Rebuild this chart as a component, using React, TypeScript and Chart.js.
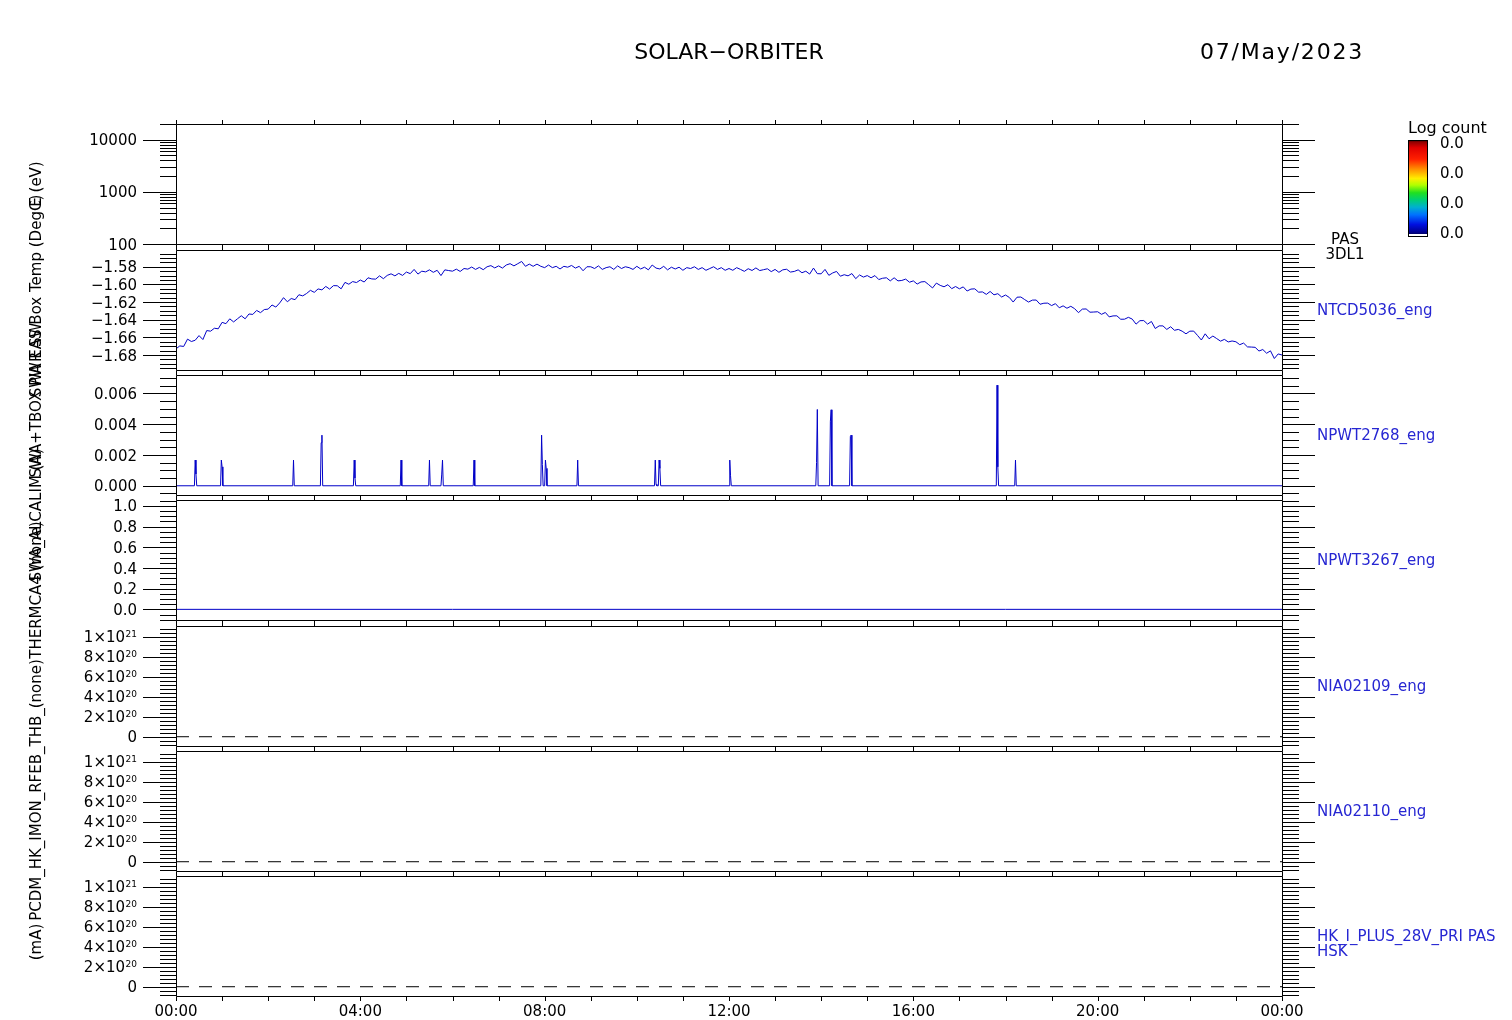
import React, { useEffect, useRef } from "react";
import { Chart, registerables } from "chart.js";

Chart.register(...registerables);

// ---------------- layout constants ----------------
const CANVAS_W = 1512;
const CANVAS_H = 1020;
const PLOT_LEFT = 176;
const PLOT_RIGHT = 1282;
const PANEL_TOPS = [124, 250, 375, 500, 626, 751, 876];
const PANEL_H = 120;
const FONT = '"DejaVu Sans", "Liberation Sans", sans-serif';
const LINE_BLUE = "#0000c8";
const LABEL_BLUE = "#2626d2";

// ---------------- titles ----------------
const MAIN_TITLE = "SOLAR\u2212ORBITER";
const DATE_TEXT = "07/May/2023";

// ---------------- time axis ----------------
const TIME_MIN_H = 0;
const TIME_MAX_H = 24;
const TIME_MAJOR_HOURS = [0, 4, 8, 12, 16, 20, 24];
const TIME_LABELS = ["00:00", "04:00", "08:00", "12:00", "16:00", "20:00", "00:00"];
const TIME_MINOR_HOURS = [0, 1, 2, 3, 4, 5, 6, 7, 8, 9, 10, 11, 12, 13, 14, 15, 16, 17, 18, 19, 20, 21, 22, 23, 24];

// ---------------- panel 1 : PAS 3DL1 energy spectrogram (empty) ----------------
const ENERGY_MIN = 100;
const ENERGY_MAX = 20000;
const ENERGY_TICKS = [100, 1000, 10000];
const ENERGY_TICK_LABELS = ["100", "1000", "10000"];
const COLORBAR_TITLE = "Log count";
const COLORBAR_LABELS = ["0.0", "0.0", "0.0", "0.0"];

// ---------------- panel 2 : NTCD5036_eng (temperature) ----------------
const TEMP_SAMPLE_MINUTES = 5;
const TEMP_VALUES = [
  -1.6730, -1.6697, -1.6703, -1.6620, -1.6647, -1.6633, -1.6580, -1.6625, -1.6523, -1.6530, -1.6497, -1.6503,
  -1.6430, -1.6445, -1.6390, -1.6425, -1.6390, -1.6355, -1.6390, -1.6335, -1.6340, -1.6295, -1.6320, -1.6285,
  -1.6280, -1.6233, -1.6257, -1.6210, -1.6150, -1.6197, -1.6160, -1.6173, -1.6117, -1.6130, -1.6103, -1.6067,
  -1.6090, -1.6051, -1.6062, -1.6023, -1.6053, -1.6014, -1.6015, -1.6050, -1.5977, -1.5998, -1.5968, -1.5979,
  -1.5950, -1.5973, -1.5925, -1.5938, -1.5940, -1.5903, -1.5935, -1.5898, -1.5880, -1.5903, -1.5875, -1.5898,
  -1.5860, -1.5878, -1.5830, -1.5883, -1.5850, -1.5858, -1.5835, -1.5863, -1.5840, -1.5900, -1.5835, -1.5843,
  -1.5850, -1.5827, -1.5853, -1.5820, -1.5827, -1.5803, -1.5830, -1.5807, -1.5833, -1.5800, -1.5787, -1.5813,
  -1.5790, -1.5815, -1.5780, -1.5765, -1.5790, -1.5765, -1.5740, -1.5795, -1.5770, -1.5795, -1.5770, -1.5795,
  -1.5810, -1.5780, -1.5810, -1.5795, -1.5825, -1.5795, -1.5805, -1.5785, -1.5815, -1.5795, -1.5845, -1.5800,
  -1.5800, -1.5820, -1.5790, -1.5830, -1.5810, -1.5800, -1.5830, -1.5790, -1.5820, -1.5800, -1.5810, -1.5830,
  -1.5795, -1.5825, -1.5805, -1.5835, -1.5780, -1.5815, -1.5825, -1.5795, -1.5835, -1.5805, -1.5825, -1.5805,
  -1.5840, -1.5810, -1.5820, -1.5800, -1.5830, -1.5810, -1.5840, -1.5820, -1.5800, -1.5830, -1.5810, -1.5840,
  -1.5820, -1.5840, -1.5810, -1.5830, -1.5852, -1.5822, -1.5842, -1.5813, -1.5843, -1.5833, -1.5823, -1.5855,
  -1.5830, -1.5863, -1.5835, -1.5828, -1.5860, -1.5853, -1.5835, -1.5868, -1.5850, -1.5883, -1.5815, -1.5878,
  -1.5880, -1.5830, -1.5897, -1.5870, -1.5853, -1.5907, -1.5890, -1.5903, -1.5877, -1.5935, -1.5893, -1.5917,
  -1.5900, -1.5925, -1.5900, -1.5945, -1.5930, -1.5925, -1.5960, -1.5925, -1.5960, -1.5955, -1.5940, -1.5975,
  -1.5960, -1.5996, -1.5972, -1.5968, -1.6003, -1.6040, -1.5985, -1.6011, -1.6027, -1.6003, -1.6048, -1.6024,
  -1.6050, -1.6028, -1.6075, -1.6053, -1.6050, -1.6088, -1.6085, -1.6113, -1.6080, -1.6118, -1.6105, -1.6143,
  -1.6120, -1.6148, -1.6200, -1.6145, -1.6143, -1.6172, -1.6200, -1.6178, -1.6177, -1.6225, -1.6213, -1.6212,
  -1.6240, -1.6218, -1.6265, -1.6243, -1.6270, -1.6248, -1.6275, -1.6320, -1.6280, -1.6278, -1.6315, -1.6313,
  -1.6310, -1.6339, -1.6318, -1.6368, -1.6357, -1.6356, -1.6395, -1.6394, -1.6373, -1.6393, -1.6450, -1.6411,
  -1.6410, -1.6450, -1.6420, -1.6500, -1.6470, -1.6470, -1.6510, -1.6480, -1.6520, -1.6510, -1.6530, -1.6560,
  -1.6530, -1.6529, -1.6578, -1.6630, -1.6560, -1.6616, -1.6585, -1.6614, -1.6643, -1.6623, -1.6652, -1.6641,
  -1.6650, -1.6683, -1.6665, -1.6708, -1.6710, -1.6713, -1.6755, -1.6738, -1.6780, -1.6753, -1.6840, -1.6788,
  -1.6800,
];
const TEMP_MIN = -1.697;
const TEMP_MAX = -1.561;
const TEMP_TICKS = [-1.68, -1.66, -1.64, -1.62, -1.6, -1.58];
const TEMP_TICK_LABELS = ["\u22121.68", "\u22121.66", "\u22121.64", "\u22121.62", "\u22121.60", "\u22121.58"];
const TEMP_MINOR_STEP = 0.005;

// ---------------- panel 3 : NPWT2768_eng (current spikes) ----------------
const CUR_SPIKE_MINUTES = [
  25, 26, 59, 60, 153, 189, 190, 232, 233, 293, 330, 346, 347, 388, 476, 477, 481, 482, 523,
  624, 625, 629, 630, 721, 722, 834, 835, 852, 853, 878, 879, 1069, 1070, 1093,
];
const CUR_SPIKE_VALUES = [
  0.00167, 0.00076, 0.00167, 0.00123, 0.00167, 0.0028, 0.00329, 0.00167, 0.0005, 0.00167, 0.00167, 0.00076, 0.00167,
  0.00167, 0.00329, 0.00139, 0.00167, 0.00113, 0.00167,
  0.00167, 0.0001, 0.00167, 0.00113, 0.00167, 0.00065, 0.00152, 0.00496, 0.0042, 0.00494, 0.0032, 0.00329,
  0.00654, 0.00123, 0.00167,
];
const CUR_MIN = -0.0006;
const CUR_MAX = 0.0072;
const CUR_TICKS = [0, 0.002, 0.004, 0.006];
const CUR_TICK_LABELS = ["0.000", "0.002", "0.004", "0.006"];
const CUR_MINOR_STEP = 0.0005;

// ---------------- panel 4 : NPWT3267_eng ----------------
const P4_TIMES_H = [0, 24];
const P4_VALUES = [0, 0];
const P4_MIN = -0.103;
const P4_MAX = 1.058;
const P4_TICKS = [0, 0.2, 0.4, 0.6, 0.8, 1.0];
const P4_TICK_LABELS = ["0.0", "0.2", "0.4", "0.6", "0.8", "1.0"];
const P4_MINOR_STEP = 0.05;

// ---------------- panels 5-7 : NIA02109_eng, NIA02110_eng, HK_I_PLUS_28V_PRI ----------------
const BIG_TIMES_H = [0, 24];
const NIA02109_VALUES = [0, 0];
const NIA02110_VALUES = [0, 0];
const HK_I_PLUS_VALUES = [0, 0];
const BIG_MIN = -0.093e21;
const BIG_MAX = 1.11e21;
const BIG_TICKS = [0, 2e20, 4e20, 6e20, 8e20, 1e21];
const BIG_TICK_BASES = ["0", "2\u00d710", "4\u00d710", "6\u00d710", "8\u00d710", "1\u00d710"];
const BIG_TICK_EXPONENTS = ["", "20", "20", "20", "20", "21"];
const BIG_MINOR_STEP = 4e19;

// ---------------- side labels ----------------
const RIGHT_LABELS = [
  ["PAS", "3DL1"],
  ["NTCD5036_eng"],
  ["NPWT2768_eng"],
  ["NPWT3267_eng"],
  ["NIA02109_eng"],
  ["NIA02110_eng"],
  ["HK_I_PLUS_28V_PRI PAS", "HSK"],
];
const LEFT_TITLES = [
  "E (eV)",
  "SWA EAS Box Temp (DegC)",
  "SWA+TBOX PWR SW",
  "SWA_ALCALIM (A)",
  "THERMCA4 (none)",
  "PCDM_HK_IMON_RFEB_THB_(none)",
  "(mA)",
];
const LEFT_TITLE_CENTERS = [184, 296, 400, 515, 590, 790, 942];

// ---------------- helpers ----------------
type Label = string | [string, string];
type PanelDef = {
  scaleType: "linear" | "logarithmic";
  min: number;
  max: number;
  majorTicks: number[];
  tickLabels: Label[];
  minorTicks: number[];
  datasets: any[];
  rightLabel: string[];
};

function linearMinorTicks(min: number, max: number, step: number): number[] {
  const out: number[] = [];
  const k0 = Math.ceil(min / step - 1e-6);
  const k1 = Math.floor(max / step + 1e-6);
  for (let k = k0; k <= k1; k++) out.push(k * step);
  return out;
}

function logMinorTicks(min: number, max: number): number[] {
  const out: number[] = [];
  for (let d = Math.floor(Math.log10(min)); d <= Math.ceil(Math.log10(max)); d++) {
    for (let m = 1; m <= 9; m++) {
      const v = m * Math.pow(10, d);
      if (v >= min * 0.999 && v <= max * 1.001) out.push(v);
    }
  }
  return out;
}

function spikeSeries(minutes: number[], values: number[]) {
  const map = new Map<number, number>();
  minutes.forEach((m, k) => map.set(m, values[k]));
  const set = new Set<number>([0, 1440]);
  minutes.forEach((m) => {
    set.add(m - 1);
    set.add(m);
    set.add(m + 1);
  });
  return Array.from(set)
    .sort((a, b) => a - b)
    .map((m) => ({ x: m / 60, y: map.has(m) ? (map.get(m) as number) : 0 }));
}

function lineDataset(points: { x: number; y: number }[], color: string, dash?: number[]) {
  return {
    data: points,
    borderColor: color,
    borderWidth: 1,
    borderDash: dash || [],
    pointRadius: 0,
    pointHoverRadius: 0,
    fill: false,
    tension: 0,
  };
}

const zip = (xs: number[], ys: number[]) => xs.map((x, i) => ({ x, y: ys[i] }));

const bigLabels: Label[] = BIG_TICK_BASES.map((b, i) =>
  BIG_TICK_EXPONENTS[i] ? ([b, BIG_TICK_EXPONENTS[i]] as [string, string]) : b
);

const PANELS: PanelDef[] = [
  {
    scaleType: "logarithmic",
    min: ENERGY_MIN,
    max: ENERGY_MAX,
    majorTicks: ENERGY_TICKS,
    tickLabels: ENERGY_TICK_LABELS,
    minorTicks: logMinorTicks(ENERGY_MIN, ENERGY_MAX),
    datasets: [],
    rightLabel: RIGHT_LABELS[0],
  },
  {
    scaleType: "linear",
    min: TEMP_MIN,
    max: TEMP_MAX,
    majorTicks: TEMP_TICKS,
    tickLabels: TEMP_TICK_LABELS,
    minorTicks: linearMinorTicks(TEMP_MIN, TEMP_MAX, TEMP_MINOR_STEP),
    datasets: [
      lineDataset(
        TEMP_VALUES.map((v, k) => ({ x: (k * TEMP_SAMPLE_MINUTES) / 60, y: v })),
        LINE_BLUE
      ),
    ],
    rightLabel: RIGHT_LABELS[1],
  },
  {
    scaleType: "linear",
    min: CUR_MIN,
    max: CUR_MAX,
    majorTicks: CUR_TICKS,
    tickLabels: CUR_TICK_LABELS,
    minorTicks: linearMinorTicks(CUR_MIN, CUR_MAX, CUR_MINOR_STEP),
    datasets: [lineDataset(spikeSeries(CUR_SPIKE_MINUTES, CUR_SPIKE_VALUES), LINE_BLUE)],
    rightLabel: RIGHT_LABELS[2],
  },
  {
    scaleType: "linear",
    min: P4_MIN,
    max: P4_MAX,
    majorTicks: P4_TICKS,
    tickLabels: P4_TICK_LABELS,
    minorTicks: linearMinorTicks(P4_MIN, P4_MAX, P4_MINOR_STEP),
    datasets: [lineDataset(zip(P4_TIMES_H, P4_VALUES), LINE_BLUE)],
    rightLabel: RIGHT_LABELS[3],
  },
  {
    scaleType: "linear",
    min: BIG_MIN,
    max: BIG_MAX,
    majorTicks: BIG_TICKS,
    tickLabels: bigLabels,
    minorTicks: linearMinorTicks(BIG_MIN, BIG_MAX, BIG_MINOR_STEP),
    datasets: [lineDataset(zip(BIG_TIMES_H, NIA02109_VALUES), "#000000", [13, 10])],
    rightLabel: RIGHT_LABELS[4],
  },
  {
    scaleType: "linear",
    min: BIG_MIN,
    max: BIG_MAX,
    majorTicks: BIG_TICKS,
    tickLabels: bigLabels,
    minorTicks: linearMinorTicks(BIG_MIN, BIG_MAX, BIG_MINOR_STEP),
    datasets: [lineDataset(zip(BIG_TIMES_H, NIA02110_VALUES), "#000000", [13, 10])],
    rightLabel: RIGHT_LABELS[5],
  },
  {
    scaleType: "linear",
    min: BIG_MIN,
    max: BIG_MAX,
    majorTicks: BIG_TICKS,
    tickLabels: bigLabels,
    minorTicks: linearMinorTicks(BIG_MIN, BIG_MAX, BIG_MINOR_STEP),
    datasets: [lineDataset(zip(BIG_TIMES_H, HK_I_PLUS_VALUES), "#000000", [13, 10])],
    rightLabel: RIGHT_LABELS[6],
  },
];

const COLORBAR_STOPS: [number, string][] = [
  [0, "#200000"],
  [0.02, "#900000"],
  [0.08, "#e00000"],
  [0.2, "#ff2000"],
  [0.3, "#ff8c00"],
  [0.4, "#ffee00"],
  [0.47, "#b0ff00"],
  [0.55, "#20e020"],
  [0.62, "#00d070"],
  [0.7, "#00b0d0"],
  [0.78, "#0070ff"],
  [0.88, "#0010e0"],
  [0.96, "#000090"],
  [0.975, "#000070"],
  [0.98, "#ffffff"],
  [1, "#ffffff"],
];

function drawPanel(chart: any, p: PanelDef, idx: number) {
  const ctx: CanvasRenderingContext2D = chart.ctx;
  const area = chart.chartArea;
  const xs = chart.scales.x;
  const ys = chart.scales.y;
  const L = Math.round(area.left);
  const R = Math.round(area.right);
  const T = Math.round(area.top);
  const B = Math.round(area.bottom);
  ctx.save();
  ctx.strokeStyle = "#000";
  ctx.lineWidth = 1;
  ctx.setLineDash([]);
  ctx.beginPath();
  ctx.rect(L + 0.5, T + 0.5, R - L, B - T);
  for (const v of p.minorTicks) {
    const y = Math.round(ys.getPixelForValue(v)) + 0.5;
    ctx.moveTo(L - 16, y);
    ctx.lineTo(L + 0.5, y);
    ctx.moveTo(R + 0.5, y);
    ctx.lineTo(R + 17, y);
  }
  for (const v of p.majorTicks) {
    const y = Math.round(ys.getPixelForValue(v)) + 0.5;
    ctx.moveTo(L - 33, y);
    ctx.lineTo(L + 0.5, y);
    ctx.moveTo(R + 0.5, y);
    ctx.lineTo(R + 33, y);
  }
  for (const h of TIME_MINOR_HOURS) {
    const x = Math.round(xs.getPixelForValue(h)) + 0.5;
    ctx.moveTo(x, T + 0.5);
    ctx.lineTo(x, T - 4);
    ctx.moveTo(x, B + 0.5);
    ctx.lineTo(x, B + 5);
  }
  ctx.stroke();

  // y tick labels
  ctx.fillStyle = "#000";
  ctx.textAlign = "right";
  ctx.textBaseline = "alphabetic";
  p.majorTicks.forEach((v, k) => {
    const y = ys.getPixelForValue(v);
    const lab = p.tickLabels[k];
    if (typeof lab === "string") {
      ctx.font = `15px ${FONT}`;
      ctx.fillText(lab, 137, y + 5.5);
    } else {
      ctx.font = `9px ${FONT}`;
      const sw = ctx.measureText(lab[1]).width;
      ctx.fillText(lab[1], 137, y + 0.5);
      ctx.font = `15px ${FONT}`;
      ctx.fillText(lab[0], 137 - sw - 0.5, y + 5.5);
    }
  });

  // right labels
  ctx.font = `15px ${FONT}`;
  if (idx === 0) {
    ctx.fillStyle = "#000";
    ctx.textAlign = "center";
    ctx.fillText(p.rightLabel[0], 1345, 243.5);
    ctx.fillText(p.rightLabel[1], 1345, 258.5);
  } else {
    ctx.fillStyle = LABEL_BLUE;
    ctx.textAlign = "left";
    const mid = (T + B) / 2;
    if (p.rightLabel.length === 1) {
      ctx.fillText(p.rightLabel[0], 1317, mid + 4.5);
    } else {
      ctx.fillText(p.rightLabel[0], 1317, mid + 4.5);
      ctx.fillText(p.rightLabel[1], 1317, mid + 19.5);
    }
  }

  if (idx === 0) {
    // main title and date
    ctx.fillStyle = "#000";
    ctx.textAlign = "center";
    ctx.font = `22px ${FONT}`;
    ctx.fillText(MAIN_TITLE, 729, 59);
    (ctx as any).letterSpacing = "1.8px";
    ctx.fillText(DATE_TEXT, 1282, 59);
    (ctx as any).letterSpacing = "0px";

    // colour bar
    const cbX = 1408;
    const cbY = 140;
    const cbW = 19;
    const cbH = 96;
    const g = ctx.createLinearGradient(0, cbY, 0, cbY + cbH);
    COLORBAR_STOPS.forEach(([o, c]) => g.addColorStop(o, c));
    ctx.fillStyle = g;
    ctx.fillRect(cbX, cbY, cbW, cbH);
    ctx.strokeStyle = "#000";
    ctx.strokeRect(cbX + 0.5, cbY + 0.5, cbW, cbH);
    ctx.fillStyle = "#000";
    ctx.textAlign = "left";
    ctx.font = `16px ${FONT}`;
    ctx.fillText(COLORBAR_TITLE, 1408, 133);
    ctx.font = `15px ${FONT}`;
    COLORBAR_LABELS.forEach((t, k) => {
      ctx.fillText(t, 1440, 142.3 + k * 30 + 5.5);
    });

    // left (overlapping) axis titles
    ctx.font = `15px ${FONT}`;
    ctx.textAlign = "center";
    ctx.textBaseline = "middle";
    LEFT_TITLES.forEach((t, k) => {
      ctx.save();
      ctx.translate(37, LEFT_TITLE_CENTERS[k]);
      ctx.rotate(-Math.PI / 2);
      ctx.fillText(t, 0, 0);
      ctx.restore();
    });
    ctx.textBaseline = "alphabetic";
  }

  if (idx === PANELS.length - 1) {
    ctx.fillStyle = "#000";
    ctx.textAlign = "center";
    ctx.font = `15px ${FONT}`;
    TIME_MAJOR_HOURS.forEach((h, k) => {
      ctx.fillText(TIME_LABELS[k], xs.getPixelForValue(h), 1016);
    });
  }
  ctx.restore();
}

function makeConfig(p: PanelDef, i: number): any {
  const top = PANEL_TOPS[i];
  return {
    type: "line",
    data: { datasets: p.datasets },
    options: {
      responsive: false,
      animation: false,
      devicePixelRatio: 1,
      events: [],
      layout: {
        padding: {
          left: PLOT_LEFT,
          right: CANVAS_W - PLOT_RIGHT,
          top,
          bottom: CANVAS_H - top - PANEL_H,
        },
      },
      plugins: {
        legend: { display: false },
        tooltip: { enabled: false },
        title: { display: false },
      },
      scales: {
        x: { type: "linear", min: TIME_MIN_H, max: TIME_MAX_H, display: false },
        y: { type: p.scaleType, min: p.min, max: p.max, display: false },
      },
    },
    plugins: [
      {
        id: "idlPanel" + i,
        afterDraw: (chart: any) => drawPanel(chart, p, i),
      },
    ],
  };
}

export default function App() {
  const refs = useRef<(HTMLCanvasElement | null)[]>([]);
  useEffect(() => {
    const charts: Chart[] = [];
    PANELS.forEach((p, i) => {
      const canvas = refs.current[i];
      if (!canvas) return;
      charts.push(new Chart(canvas, makeConfig(p, i)));
    });
    return () => {
      charts.forEach((c) => c.destroy());
    };
  }, []);
  return (
    <div
      style={{
        position: "absolute",
        left: 0,
        top: 0,
        width: CANVAS_W,
        height: CANVAS_H,
        background: "#ffffff",
        overflow: "hidden",
      }}
    >
      {PANELS.map((_, i) => (
        <canvas
          key={i}
          ref={(el) => {
            refs.current[i] = el;
          }}
          width={CANVAS_W}
          height={CANVAS_H}
          style={{ position: "absolute", left: 0, top: 0 }}
        />
      ))}
    </div>
  );
}
